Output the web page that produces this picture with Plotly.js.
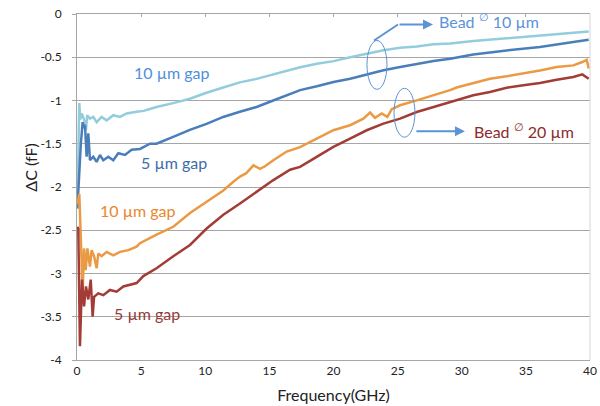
<!DOCTYPE html>
<html><head><meta charset="utf-8">
<script src="https://cdn.plot.ly/plotly-3.0.1.min.js"></script>
<style>html,body{margin:0;padding:0;background:#fff}#chart{width:600px;height:406px}</style>
</head><body><div id="chart"></div>
<script>
// 10 µm gap, bead Ø 10 µm (light blue)
const freqGap10Bead10 = [0.05,0.12,0.18,0.25,0.36,0.45,0.55,0.70,0.80,1.01,1.27,1.53,1.92,2.31,2.83,3.35,3.87,4.65,5.2,6.2,7.0,7.5,8.8,10.1,11.4,12.7,14.0,15.3,16.6,17.4,18.7,20.0,21.3,22.6,23.9,25.2,26.5,27.8,29.1,30.9,33.5,36.1,38.7,39.9];
const dcGap10Bead10 = [-2.08,-1.6,-1.03,-1.22,-1.15,-1.18,-1.22,-1.34,-1.17,-1.21,-1.19,-1.25,-1.19,-1.23,-1.17,-1.19,-1.15,-1.13,-1.12,-1.075,-1.05,-1.03,-0.98,-0.91,-0.85,-0.79,-0.75,-0.70,-0.65,-0.615,-0.575,-0.545,-0.50,-0.46,-0.42,-0.39,-0.375,-0.35,-0.34,-0.313,-0.279,-0.248,-0.217,-0.202];

// 5 µm gap, bead Ø 10 µm (dark blue)
const freqGap5Bead10 = [0.03,0.10,0.2,0.3,0.44,0.52,0.62,0.75,0.88,1.01,1.27,1.53,1.79,2.05,2.44,2.83,3.22,3.74,4.26,4.91,5.69,6.2,7.5,8.8,10.1,11.4,12.7,14.0,15.3,16.6,17.4,18.7,20.0,21.3,22.6,23.9,25.2,26.5,27.8,29.1,30.9,33.5,36.1,38.7,39.9];
const dcGap5Bead10 = [-2.25,-2.04,-1.75,-1.5,-1.25,-1.32,-1.28,-1.65,-1.38,-1.69,-1.65,-1.71,-1.63,-1.69,-1.65,-1.69,-1.61,-1.63,-1.57,-1.56,-1.50,-1.50,-1.42,-1.34,-1.27,-1.19,-1.13,-1.075,-1.0,-0.92,-0.88,-0.836,-0.786,-0.748,-0.698,-0.65,-0.613,-0.575,-0.544,-0.517,-0.467,-0.421,-0.382,-0.325,-0.298];

// 10 µm gap, bead Ø 20 µm (orange)
const freqGap10Bead20 = [0.03,0.18,0.3,0.44,0.55,0.68,0.81,1.01,1.14,1.33,1.53,1.66,1.92,2.31,2.83,3.35,4.0,4.65,4.91,5.17,5.69,6.2,7.51,8.29,8.81,10.11,11.41,12.19,12.71,13.2,13.76,14.27,14.66,15.31,16.35,17.39,18.69,19.99,21.29,22.33,22.85,23.24,23.76,24.2,24.54,25.19,26.49,27.79,29.09,29.6,30.9,32.2,33.5,34.8,36.1,37.4,38.7,39.4,39.74,39.9];
const dcGap10Bead20 = [-2.2,-2.08,-2.6,-3.23,-2.71,-2.96,-2.71,-2.92,-2.73,-2.80,-2.94,-2.77,-2.80,-2.75,-2.79,-2.75,-2.73,-2.69,-2.65,-2.63,-2.59,-2.55,-2.46,-2.36,-2.30,-2.17,-2.04,-1.94,-1.88,-1.84,-1.75,-1.79,-1.76,-1.69,-1.59,-1.54,-1.44,-1.344,-1.286,-1.21,-1.14,-1.20,-1.15,-1.19,-1.10,-1.055,-0.998,-0.94,-0.88,-0.85,-0.798,-0.748,-0.72,-0.69,-0.652,-0.613,-0.594,-0.555,-0.53,-0.63];

// 5 µm gap, bead Ø 20 µm (dark red)
const freqGap5Bead20 = [0.03,0.1,0.23,0.39,0.55,0.70,0.88,1.07,1.22,1.33,1.66,2.05,2.57,3.09,3.61,4.13,4.65,5.17,5.69,6.2,7.51,8.81,10.11,11.41,12.71,14.01,15.31,16.61,17.39,18.69,19.99,21.29,22.59,23.89,25.19,26.49,27.79,29.09,29.6,30.9,32.2,33.5,34.8,36.1,37.4,38.7,39.4,39.9];
const dcGap5Bead20 = [-2.46,-2.48,-3.84,-3.07,-3.38,-3.15,-3.30,-3.07,-3.50,-3.27,-3.23,-3.25,-3.19,-3.21,-3.15,-3.13,-3.11,-3.03,-2.98,-2.94,-2.80,-2.67,-2.48,-2.32,-2.19,-2.05,-1.92,-1.80,-1.767,-1.651,-1.536,-1.44,-1.344,-1.267,-1.21,-1.133,-1.075,-1.017,-0.998,-0.94,-0.902,-0.852,-0.825,-0.798,-0.76,-0.729,-0.698,-0.748];

const xTickVals = [0,5,10,15,20,25,30,35,40];
const xTickLabels = ['0','5','10','15','20','25','30','35','40'];
const yTickVals = [0,-0.5,-1,-1.5,-2,-2.5,-3,-3.5,-4];
const yTickLabels = ['0','-0.5','-1','-1.5','-2','-2.5','-3','-3.5','-4'];

const seriesNames = ['10 µm gap (bead 10 µm)','5 µm gap (bead 10 µm)','10 µm gap (bead 20 µm)','5 µm gap (bead 20 µm)'];
const seriesColors = ['#93CDDD','#4A7EBB','#EB9A44','#A33C36'];
const seriesX = [freqGap10Bead10, freqGap5Bead10, freqGap10Bead20, freqGap5Bead20];
const seriesY = [dcGap10Bead10, dcGap5Bead10, dcGap10Bead20, dcGap5Bead20];

const traces = seriesX.map((xs, i) => ({
  type:'scatter', mode:'lines', name:seriesNames[i], x:xs, y:seriesY[i],
  line:{color:seriesColors[i], width:2.5}, hoverinfo:'skip'
}));
traces.push({type:'scatter', mode:'lines', x:[], y:[], xaxis:'x2', showlegend:false, hoverinfo:'skip'});

const F = 'Lato, "Open Sans", sans-serif';
const accent = '#5B93D3';

const layout = {
  width:600, height:406,
  margin:{l:77, r:10, t:14, b:46, pad:0},
  paper_bgcolor:'#fff', plot_bgcolor:'#fff',
  showlegend:false,
  font:{family:F, color:'#333'},
  xaxis:{range:[0,40], tickvals:xTickVals, ticktext:xTickLabels, showgrid:false, zeroline:false,
    showline:true, linecolor:'#A6A6A6', linewidth:1, mirror:true, ticks:'',
    tickfont:{size:12, color:'#222', family:F},
    title:{text:'Frequency(GHz)', font:{size:16, color:'#222', family:F}, standoff:12}},
  xaxis2:{overlaying:'x', side:'top', range:[0,40], tickvals:xTickVals, showticklabels:false,
    ticks:'inside', ticklen:3, tickcolor:'#A6A6A6', showgrid:false, zeroline:false, showline:false},
  yaxis:{range:[-4,0], tickvals:yTickVals, ticktext:yTickLabels, showgrid:true, gridcolor:'#A6A6A6', gridwidth:1,
    zeroline:false, showline:true, linecolor:'#A6A6A6', linewidth:1, ticks:'outside', ticklen:4, tickcolor:'#A6A6A6',
    tickfont:{size:12, color:'#222', family:F}, ticklabelstandoff:8},
  shapes:[
    {type:'line', xref:'paper', yref:'paper', x0:1, x1:1, y0:0, y1:1, line:{color:'#D4D4D4', width:1}},
    {type:'circle', xref:'x', yref:'y', x0:22.61, x1:24.17, y0:-0.871, y1:-0.306, line:{color:accent, width:1}},
    {type:'circle', xref:'x', yref:'y', x0:24.72, x1:26.35, y0:-1.424, y1:-0.859, line:{color:accent, width:1}},
    {type:'line', xref:'x', yref:'y', x0:23.16, y0:-0.306, x1:25.03, y1:-0.121, line:{color:accent, width:2}}
  ],
  annotations:[
    {xref:'paper', yref:'paper', x:-0.112, y:0.556, text:'ΔC (fF)', textangle:-90, showarrow:false,
      font:{size:16, color:'#222', family:F}},
    {x:7.41, y:-0.675, text:'10 µm gap', showarrow:false, font:{size:16, color:'#4F8FDB', family:F}},
    {x:7.56, y:-1.713, text:'5 µm gap', showarrow:false, font:{size:16, color:'#3E6CA8', family:F}},
    {x:4.76, y:-2.266, text:'10 µm gap', showarrow:false, font:{size:16, color:'#E8872E', family:F}},
    {x:5.46, y:-3.466, text:'5 µm gap', showarrow:false, font:{size:16, color:'#943A36', family:F}},
    {x:32.12, y:-0.075, text:'Bead <sup>∅</sup> 10 µm', showarrow:false, font:{size:16, color:'#5B93D8', family:F}},
    {x:34.85, y:-1.344, text:'Bead <sup>∅</sup> 20 µm', showarrow:false, font:{size:16, color:'#8B2B2B', family:F}},
    {x:27.76, y:-0.121, ax:25.03, ay:-0.121, axref:'x', ayref:'y', text:'', showarrow:true,
      arrowhead:2, arrowsize:1, arrowwidth:2, arrowcolor:accent},
    {x:30.25, y:-1.355, ax:26.35, ay:-1.355, axref:'x', ayref:'y', text:'', showarrow:true,
      arrowhead:2, arrowsize:1, arrowwidth:2, arrowcolor:accent}
  ]
};

Plotly.newPlot('chart', traces, layout, {displayModeBar:false, staticPlot:true});
</script>
</body></html>
